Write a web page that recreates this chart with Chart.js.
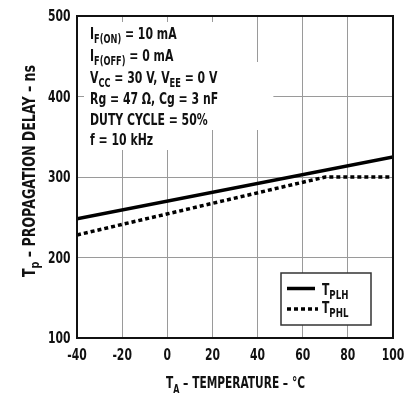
<!DOCTYPE html>
<html>
<head>
<meta charset="utf-8">
<script src="https://cdn.jsdelivr.net/npm/chart.js@4/dist/chart.umd.min.js"></script>
<style>
html,body{margin:0;padding:0;background:#fff;}
#wrap{width:417px;height:398px;position:relative;}
</style>
</head>
<body>
<div id="wrap"><canvas id="c" width="417" height="398"></canvas></div>
<script>
// ---- data ----
const xTicks = [-40, -20, 0, 20, 40, 60, 80, 100];
const yTicks = [100, 200, 300, 400, 500];
const tplhTemps = [-40, 100];
const tplhValues = [248, 325];
const tphlTemps = [-40, 70, 100];
const tphlValues = [228, 300, 300];

const FONT = '"Liberation Sans Narrow", "DejaVu Sans", sans-serif';
const K = 0.72; // horizontal condensing of text
const KT = 0.66; // condensing of the conditions text block

function pts(xs, ys){ return xs.map((x,i)=>({x:x, y:ys[i]})); }

function segsWidth(ctx, segs, size, subSize){
  let w = 0;
  for (const s of segs){
    ctx.font = 'bold ' + (s[1] ? subSize : size) + 'px ' + FONT;
    w += ctx.measureText(s[0]).width;
  }
  return w;
}
function drawSegs(ctx, x, y, segs, size, subSize, subDrop, k){
  ctx.save();
  ctx.translate(x, y);
  ctx.scale(k, 1);
  ctx.textAlign = 'left';
  ctx.textBaseline = 'alphabetic';
  let cx = 0;
  for (const s of segs){
    const isSub = s[1];
    ctx.font = 'bold ' + (isSub ? subSize : size) + 'px ' + FONT;
    ctx.fillText(s[0], cx, isSub ? subDrop : 0);
    cx += ctx.measureText(s[0]).width;
  }
  ctx.restore();
  return cx * k;
}

const decor = {
  id: 'decor',
  beforeDatasetsDraw(chart){
    const ctx = chart.ctx, xs = chart.scales.x;
    ctx.save();
    ctx.fillStyle = '#fff';
    const L = xs.left + 7;
    ctx.fillRect(L, 22, xs.getPixelForValue(32) - L, 130 - 22);
    ctx.fillRect(L, 62, xs.getPixelForValue(47) - L, 130 - 62);
    ctx.fillRect(L, 130, xs.getPixelForValue(12) - L, 150 - 130);
    ctx.restore();
  },
  afterDatasetsDraw(chart){
    const ctx = chart.ctx;
    const a = chart.chartArea;
    ctx.save();
    ctx.strokeStyle = '#111';
    ctx.lineWidth = 2;
    ctx.strokeRect(a.left, a.top, a.right - a.left, a.bottom - a.top);

    ctx.fillStyle = '#111';
    const lines = [
      [['I',0],['F(ON)',1],[' = 10 mA',0]],
      [['I',0],['F(OFF)',1],[' = 0 mA',0]],
      [['V',0],['CC',1],[' = 30 V, V',0],['EE',1],[' = 0 V',0]],
      [['Rg = 47 \u03A9, Cg = 3 nF',0]],
      [['DUTY CYCLE = 50%',0]],
      [['f = 10 kHz',0]]
    ];
    const bases = [39, 61, 83, 104, 125, 145];
    lines.forEach((segs,i)=>drawSegs(ctx, 90, bases[i], segs, 16.5, 12.5, 4, KT));

    // legend
    const lx = 281, ly = 273, lw = 90, lh = 52;
    ctx.fillStyle = '#fff';
    ctx.fillRect(lx, ly, lw, lh);
    ctx.strokeStyle = '#333';
    ctx.lineWidth = 1.5;
    ctx.strokeRect(lx, ly, lw, lh);
    ctx.strokeStyle = '#000';
    ctx.lineWidth = 3.5;
    ctx.beginPath(); ctx.moveTo(287, 288.5); ctx.lineTo(315, 288.5); ctx.stroke();
    ctx.setLineDash([4,3]);
    ctx.beginPath(); ctx.moveTo(287, 309); ctx.lineTo(318, 309); ctx.stroke();
    ctx.setLineDash([]);
    ctx.fillStyle = '#111';
    drawSegs(ctx, 322, 295, [['T',0],['PLH',1]], 15, 12, 4, K);
    drawSegs(ctx, 322, 313, [['T',0],['PHL',1]], 15, 12, 4, K);
    ctx.restore();
  },
  afterDraw(chart){
    const ctx = chart.ctx, xs = chart.scales.x, ys = chart.scales.y;
    ctx.save();
    ctx.fillStyle = '#111';
    xTicks.forEach(v=>{
      ctx.font = 'bold 15px ' + FONT;
      const w = ctx.measureText(String(v)).width * K;
      drawSegs(ctx, xs.getPixelForValue(v) - w/2, 359.5, [[String(v),0]], 15, 12, 0, K);
    });
    yTicks.forEach(v=>{
      ctx.font = 'bold 15px ' + FONT;
      const w = ctx.measureText(String(v)).width * K;
      drawSegs(ctx, 70.5 - w, ys.getPixelForValue(v) + 5, [[String(v),0]], 15, 12, 0, K);
    });
    const xsegs = [['T',0],['A',1],[' \u2013 TEMPERATURE \u2013 \u00B0C',0]];
    const xw = segsWidth(ctx, xsegs, 16, 12);
    drawSegs(ctx, 235.5 - 139/2, 388, xsegs, 16, 12, 5, 139 / xw);
    const ysegs = [['T',0],['p',1],[' \u2013 PROPAGATION DELAY \u2013 ns',0]];
    const yw = segsWidth(ctx, ysegs, 17, 13);
    ctx.translate(35, 171);
    ctx.rotate(-Math.PI/2);
    drawSegs(ctx, -106, 0, ysegs, 17, 13, 4, 212 / yw);
    ctx.restore();
  }
};

new Chart(document.getElementById('c'), {
  type: 'line',
  data: {
    datasets: [
      { label: 'TPLH', data: pts(tplhTemps, tplhValues), borderColor: '#000', borderWidth: 3.5,
        pointRadius: 0, fill: false, tension: 0 },
      { label: 'TPHL', data: pts(tphlTemps, tphlValues), borderColor: '#000', borderWidth: 3.5,
        borderDash: [4,3], pointRadius: 0, fill: false, tension: 0 }
    ]
  },
  options: {
    responsive: false,
    animation: false,
    devicePixelRatio: 1,
    layout: { padding: { top: 16, right: 24, left: 0, bottom: 0 } },
    plugins: { legend: { display: false }, tooltip: { enabled: false }, title: { display: false } },
    scales: {
      x: {
        type: 'linear', min: -40, max: 100,
        afterBuildTicks(s){ s.ticks = xTicks.map(v=>({value:v})); },
        afterFit(s){ s.height = 60; },
        grid: { color: '#9a9a9a', lineWidth: 1, drawTicks: false },
        border: { display: false },
        ticks: { display: false }
      },
      y: {
        type: 'linear', min: 100, max: 500,
        afterBuildTicks(s){ s.ticks = yTicks.map(v=>({value:v})); },
        afterFit(s){ s.width = 77; },
        grid: { color: '#9a9a9a', lineWidth: 1, drawTicks: false },
        border: { display: false },
        ticks: { display: false }
      }
    }
  },
  plugins: [decor]
});
</script>
</body>
</html>
